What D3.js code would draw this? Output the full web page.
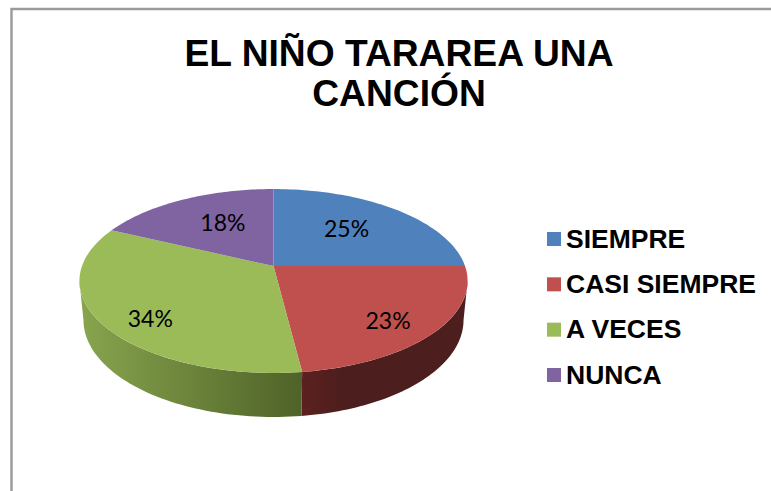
<!DOCTYPE html>
<html><head><meta charset="utf-8">
<script src="https://cdn.jsdelivr.net/npm/d3@7"></script>
<style>html,body{margin:0;background:#fff}svg{display:block}</style></head>
<body><svg id="c" width="771" height="491"></svg>
<script>
const titleLines = ["EL NIÑO TARAREA UNA", "CANCIÓN"];
const categories = ["SIEMPRE", "CASI SIEMPRE", "A VECES", "NUNCA"];
const values = [25, 23, 34, 18];
const colors = ["#4f81bd", "#c0504d", "#9bbb59", "#8064a2"];
const sideLeft = ["#3a5f8c", "#5c2120", "#88a54e", "#5f4a79"];
const sideRight = ["#3a5f8c", "#4c1e1d", "#4f6228", "#5f4a79"];
const labelNudge = [[-10, 1], [12.5, 12], [-14, 15], [11.5, 2]];

const svg = d3.select("#c");
const k = 0.163, cx = 273.5;
const topDisc = {cx, cy: 266, a: 191.5, c: 89.5};
const botDisc = {cx, cy: 304.2, a: 187.5, c: 94.4};
const project = (d, ang, r = 1) => {
  const u = r * Math.sin(ang), v = r * Math.cos(ang), w = 1 + k * v;
  return [d.cx + d.a * u / w, d.cy - d.c * v / w];
};
const arcs = d3.pie().sort(null).value(v => v).startAngle(0).endAngle(2 * Math.PI)(values);
const samples = (a0, a1) => d3.range(0, 61).map(i => a0 + (a1 - a0) * i / 60);
const line = d3.line();
const color = d3.scaleOrdinal(categories, colors);
const wallStart = Math.acos(-k), wallEnd = 2 * Math.PI - wallStart;

// frame
svg.append("path").attr("d", "M11.5,491V9H771").attr("fill", "none").attr("stroke", "#9a9a9a").attr("stroke-width", 2.4);

// gradients and side walls
const defs = svg.append("defs");
arcs.forEach((s, i) => {
  const a0 = Math.max(s.startAngle, wallStart), a1 = Math.min(s.endAngle, wallEnd);
  if (a1 <= a0) return;
  const as = samples(a0, a1);
  const topPts = as.map(a => project(topDisc, a));
  const botPts = as.map(a => project(botDisc, a)).reverse();
  const xs = topPts.map(p => p[0]);
  const g = defs.append("linearGradient").attr("id", "side" + i).attr("gradientUnits", "userSpaceOnUse")
    .attr("x1", d3.min(xs)).attr("x2", d3.max(xs)).attr("y1", 0).attr("y2", 0);
  g.append("stop").attr("offset", 0).attr("stop-color", sideLeft[i]);
  g.append("stop").attr("offset", i === 1 ? 0.25 : 1).attr("stop-color", sideRight[i]);
  svg.append("path").attr("d", line(topPts.concat(botPts)) + "Z").attr("fill", `url(#side${i})`);
});

// top faces
arcs.forEach((s, i) => {
  const pts = [project(topDisc, 0, 0)].concat(samples(s.startAngle, s.endAngle).map(a => project(topDisc, a)));
  svg.append("path").attr("d", line(pts) + "Z").attr("fill", color(categories[i]));
});

// percent labels
const pct = d3.format(".0%");
arcs.forEach((s, i) => {
  const p = project(topDisc, (s.startAngle + s.endAngle) / 2, 0.66);
  svg.append("text").attr("x", p[0] + labelNudge[i][0]).attr("y", p[1] + labelNudge[i][1])
    .attr("text-anchor", "middle").attr("dominant-baseline", "central")
    .attr("font-family", "Lato, 'Open Sans', sans-serif").attr("font-size", 23).attr("fill", "#000")
    .text(pct(values[i] / d3.sum(values)));
});

// title
const titleY = d3.scalePoint().domain(titleLines).range([66, 106]);
svg.selectAll("text.t").data(titleLines).join("text").attr("class", "t")
  .attr("x", 399).attr("y", d => titleY(d)).attr("text-anchor", "middle")
  .attr("font-family", "'Liberation Sans', Arial, sans-serif").attr("font-weight", 700).attr("font-size", 37.2)
  .attr("fill", "#000").text(d => d);

// legend
const legY = d3.scalePoint().domain(categories).range([239, 375]);
const leg = svg.selectAll("g.l").data(categories).join("g").attr("class", "l")
  .attr("transform", d => `translate(0,${legY(d)})`);
leg.append("rect").attr("x", 547).attr("y", -7).attr("width", 14).attr("height", 14).attr("fill", d => color(d));
leg.append("text").attr("x", 566).attr("y", 8.5).attr("font-family", "'Liberation Sans', Arial, sans-serif")
  .attr("font-weight", 700).attr("font-size", 26.5).attr("fill", "#000").text(d => d);
</script></body></html>
